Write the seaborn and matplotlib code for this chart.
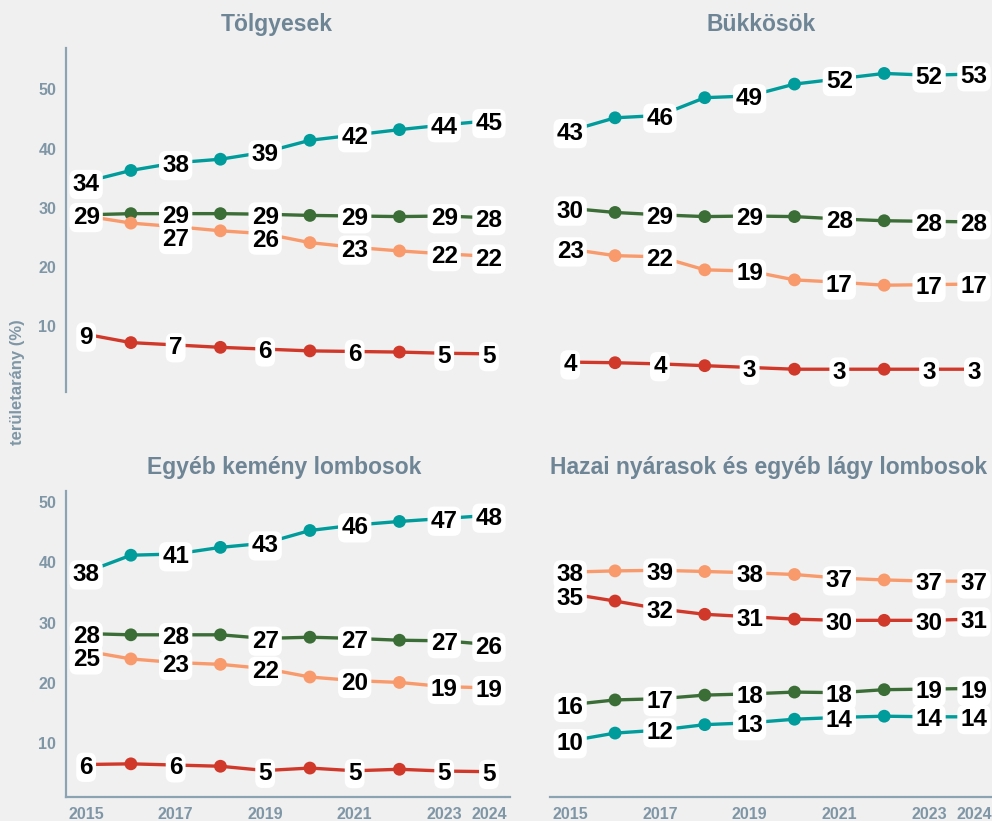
import pandas as pd
import matplotlib.pyplot as plt
import seaborn as sns

# --- adatok ---
evek = list(range(2015, 2025))
cimkezett_evek = [2015, 2017, 2019, 2021, 2023, 2024]
x_tick_evek = [2015, 2017, 2019, 2021, 2023, 2024]
y_tickek = [10, 20, 30, 40, 50]

panel_cimek = ['Tölgyesek', 'Bükkösök', 'Egyéb kemény lombosok',
               'Hazai nyárasok és egyéb lágy lombosok']
sorozatok = ['turkiz', 'zold', 'narancs', 'piros']

tolgy_turkiz = [34.4, 36.3, 37.6, 38.2, 39.4, 41.4, 42.3, 43.2, 44.0, 44.7]
tolgy_zold = [28.8, 29.0, 29.0, 29.0, 28.9, 28.7, 28.6, 28.5, 28.6, 28.3]
tolgy_narancs = [28.6, 27.4, 26.8, 26.1, 25.6, 24.1, 23.3, 22.7, 22.2, 21.8]
tolgy_piros = [8.6, 7.2, 6.8, 6.4, 6.1, 5.8, 5.7, 5.6, 5.4, 5.3]

bukk_turkiz = [43.0, 45.2, 45.6, 48.6, 48.9, 50.9, 51.8, 52.7, 52.4, 52.6]
bukk_zold = [29.9, 29.2, 28.8, 28.5, 28.6, 28.5, 28.1, 27.8, 27.7, 27.6]
bukk_narancs = [23.0, 21.9, 21.7, 19.5, 19.3, 17.8, 17.4, 16.9, 17.0, 17.1]
bukk_piros = [3.9, 3.8, 3.6, 3.3, 3.0, 2.7, 2.7, 2.7, 2.7, 2.7]

egyeb_turkiz = [38.4, 41.2, 41.4, 42.5, 43.2, 45.3, 46.2, 46.8, 47.3, 47.8]
egyeb_zold = [28.2, 28.0, 28.0, 28.0, 27.4, 27.6, 27.4, 27.1, 27.0, 26.4]
egyeb_narancs = [25.3, 24.0, 23.4, 23.1, 22.4, 21.0, 20.4, 20.1, 19.4, 19.2]
egyeb_piros = [6.49, 6.6, 6.4, 6.2, 5.49, 5.9, 5.45, 5.7, 5.4, 5.3]

hazai_turkiz = [10.4, 11.7, 12.2, 13.1, 13.4, 14.0, 14.3, 14.5, 14.4, 14.4]
hazai_zold = [16.4, 17.2, 17.4, 18.0, 18.2, 18.5, 18.4, 18.9, 19.0, 19.1]
hazai_narancs = [38.4, 38.6, 38.7, 38.5, 38.3, 38.0, 37.4, 37.1, 36.9, 36.9]
hazai_piros = [34.8, 33.6, 32.3, 31.4, 31.0, 30.6, 30.4, 30.4, 30.4, 30.6]

szinek = {'turkiz': '#009b9b', 'zold': '#3b6d36', 'narancs': '#f89a6b', 'piros': '#d0382a'}
# ----------------------------------------------------

panel_adatok = [
    [tolgy_turkiz, tolgy_zold, tolgy_narancs, tolgy_piros],
    [bukk_turkiz, bukk_zold, bukk_narancs, bukk_piros],
    [egyeb_turkiz, egyeb_zold, egyeb_narancs, egyeb_piros],
    [hazai_turkiz, hazai_zold, hazai_narancs, hazai_piros],
]

sorok = []
for cim, adatok in zip(panel_cimek, panel_adatok):
    for nev, ertekek in zip(sorozatok, adatok):
        for ev, v in zip(evek, ertekek):
            sorok.append({'panel': cim, 'sorozat': nev, 'ev': ev, 'ertek': v})
df = pd.DataFrame(sorok)

sns.set_style('white')
plt.rcParams['font.family'] = ['Liberation Sans', 'DejaVu Sans']

hatter = '#f0f0f0'
tengely_szin = '#8ca3b3'
cim_szin = '#6e8596'
tick_szin = '#7f96a6'

W, H = 992, 821
fig = plt.figure(figsize=(W / 100, H / 100), dpi=100, facecolor=hatter)


def px_axes(bal, jobb, felso, also):
    return fig.add_axes([bal / W, 1 - also / H, (jobb - bal) / W, (also - felso) / H])


axes = [
    px_axes(66, 510, 48, 392),
    px_axes(550, 995, 48, 392),
    px_axes(66, 510, 491, 797),
    px_axes(550, 995, 491, 797),
]
ylims = [(-1.15, 57.0), (-1.15, 57.0), (1.1, 51.85), (1.1, 51.85)]

for i, (ax, cim) in enumerate(zip(axes, panel_cimek)):
    ax.set_facecolor(hatter)
    d = df[df['panel'] == cim]
    sns.lineplot(data=d, x='ev', y='ertek', hue='sorozat', hue_order=sorozatok,
                 palette=szinek, linewidth=2.4, legend=False, ax=ax, zorder=2)
    jelolt = d[~d['ev'].isin(cimkezett_evek)]
    sns.scatterplot(data=jelolt, x='ev', y='ertek', hue='sorozat', hue_order=sorozatok,
                    palette=szinek, s=85, edgecolor='none', legend=False, ax=ax, zorder=3)

    # cimkek egyszeru utkozeskerulessel
    res = 3.9
    for ev in cimkezett_evek:
        lerakott = []
        for nev in sorozatok:
            v = d[(d['sorozat'] == nev) & (d['ev'] == ev)]['ertek'].iloc[0]
            szoveg = f'{v:.0f}'
            y = v
            kihagy = False
            for _ in range(4):
                for py, pszoveg in lerakott:
                    if abs(y - py) < res:
                        if pszoveg == szoveg:
                            kihagy = True
                        y = py - res if y < py else py + res
            if kihagy:
                continue
            lerakott.append((y, szoveg))
            ax.annotate(szoveg, xy=(ev, y), xytext=(0, -2), textcoords='offset points',
                        ha='center', va='center', fontsize=17.5,
                        fontweight='bold', color='black', zorder=5,
                        bbox=dict(boxstyle='round,pad=0.13,rounding_size=0.3',
                                  fc='white', ec='none'))

    ax.set_xlim(2014.55, 2024.47)
    ax.set_ylim(*ylims[i])
    ax.set_xlabel('')
    ax.set_ylabel('')
    cim_x = 0.475 if i < 2 else 0.492
    ax.annotate(cim, xy=(cim_x, 1), xycoords='axes fraction', xytext=(0, 17),
                textcoords='offset points', ha='center', va='center',
                fontsize=16.5, fontweight='bold', color=cim_szin)

    bal = i in (0, 2)
    also = i in (2, 3)
    for s in ['top', 'right']:
        ax.spines[s].set_visible(False)
    ax.spines['left'].set_visible(bal)
    ax.spines['bottom'].set_visible(also)
    for s in ['left', 'bottom']:
        ax.spines[s].set_color(tengely_szin)
        ax.spines[s].set_linewidth(1.6)

    if bal:
        ax.set_yticks(y_tickek)
        ax.tick_params(axis='y', length=4, width=1.5, color=tengely_szin,
                       labelcolor=tick_szin, labelsize=11.5, pad=3)
        for t in ax.get_yticklabels():
            t.set_fontweight('bold')
    else:
        ax.set_yticks([])
    if also:
        ax.set_xticks(x_tick_evek)
        ax.set_xticklabels([str(e) for e in x_tick_evek])
        ax.tick_params(axis='x', length=4, width=1.5, color=tengely_szin,
                       labelcolor=tick_szin, labelsize=11.5, pad=3)
        for t in ax.get_xticklabels():
            t.set_fontweight('bold')
    else:
        ax.set_xticks([])

fig.text(18 / W, 1 - 382 / H, 'területarány (%)', rotation=90, ha='center', va='center',
         fontsize=12, fontweight='bold', color=tick_szin)

plt.savefig('out.png', dpi=100, facecolor=hatter)
